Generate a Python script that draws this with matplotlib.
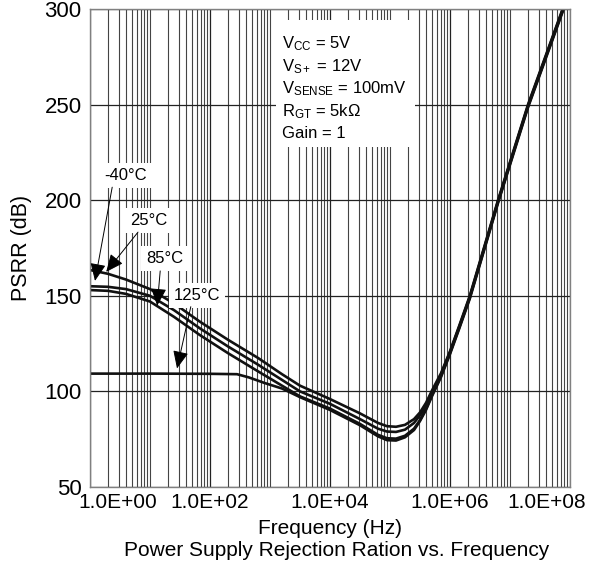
import numpy as np
import matplotlib
matplotlib.use("Agg")
import matplotlib.pyplot as plt
from matplotlib.patches import Rectangle
from matplotlib.ticker import FixedLocator, LogLocator, NullFormatter
import matplotlib.transforms as mtransforms

plt.rcParams['font.family'] = ['Liberation Sans', 'DejaVu Sans']
plt.rcParams['mathtext.fontset'] = 'custom'
plt.rcParams['mathtext.rm'] = 'Liberation Sans'
plt.rcParams['mathtext.it'] = 'Liberation Sans:italic'
plt.rcParams['mathtext.bf'] = 'Liberation Sans:bold'

# ---- data (log10 of frequency in Hz, PSRR in dB) ----
logf_top = [0.0, 0.3, 0.6, 1.0, 1.4, 1.83, 2.3, 2.8, 3.2, 3.5, 4.0, 4.5, 4.8, 4.95, 5.1, 5.25, 5.4, 5.5, 5.6, 5.7, 5.85, 6.0, 6.15, 6.33, 6.8, 7.3, 7.9]
psrr_top = [163.5, 161.5, 158.5, 153.5, 146.0, 136.5, 127.0, 117.5, 109.0, 103.0, 96.0, 88.5, 83.5, 81.8, 81.5, 82.5, 85.5, 89.0, 94.0, 100.5, 109.5, 121.0, 134.0, 150.0, 200.0, 250.0, 302.0]

logf_mid = [0.0, 0.3, 0.6, 1.0, 1.4, 1.83, 2.3, 2.8, 3.2, 3.5, 4.0, 4.5, 4.8, 4.95, 5.1, 5.25, 5.4, 5.5, 5.6, 5.7, 5.85, 6.0, 6.15, 6.33, 6.8, 7.3, 7.9]
psrr_mid = [155.0, 154.7, 153.5, 150.0, 142.5, 133.0, 123.5, 114.0, 106.0, 100.0, 93.5, 85.5, 80.5, 79.0, 78.8, 80.0, 83.5, 87.5, 92.5, 99.5, 108.8, 120.5, 133.5, 149.5, 199.5, 249.5, 301.5]

logf_low = [0.0, 0.3, 0.6, 1.0, 1.4, 1.83, 2.3, 2.8, 3.2, 3.5, 4.0, 4.5, 4.8, 4.95, 5.1, 5.25, 5.4, 5.5, 5.6, 5.7, 5.85, 6.0, 6.15, 6.33, 6.8, 7.3, 7.9]
psrr_low = [153.0, 152.6, 151.0, 147.0, 139.0, 129.5, 120.0, 110.5, 103.0, 97.4, 91.0, 83.0, 77.3, 75.5, 75.3, 76.8, 80.5, 85.0, 90.8, 98.0, 108.0, 120.0, 133.0, 149.0, 199.0, 249.0, 301.0]

logf_125 = [0.0, 1.0, 2.0, 2.45, 2.65, 2.9, 3.2, 3.5, 4.0, 4.5, 4.8, 4.95, 5.1, 5.25, 5.4, 5.5, 5.6, 5.7, 5.85, 6.0, 6.15, 6.33, 6.8, 7.3, 7.9]
psrr_125 = [109.3, 109.3, 109.2, 109.0, 107.3, 104.5, 101.5, 97.0, 90.3, 82.3, 76.5, 74.5, 74.3, 76.0, 79.8, 84.5, 90.3, 97.5, 107.5, 119.5, 132.5, 148.5, 198.5, 248.5, 300.5]

x_ticks = [1e0, 1e2, 1e4, 1e6, 1e8]
x_tick_labels = ["1.0E+00", "1.0E+02", "1.0E+04", "1.0E+06", "1.0E+08"]
y_ticks = [50, 100, 150, 200, 250, 300]

temp_labels = ["-40°C", "25°C", "85°C", "125°C"]
cond_lines = [r"V$_{\mathrm{CC}}$ = 5V", r"V$_{\mathrm{S+}}$ = 12V",
              r"V$_{\mathrm{SENSE}}$ = 100mV", r"R$_{\mathrm{GT}}$ = 5kΩ", "Gain = 1"]

# ---- figure ----
fig = plt.figure(figsize=(5.94, 5.67), dpi=100)
ax = fig.add_axes([90/594, 80/567, 480/594, 478/567])

ax.set_xscale('log')
ax.set_xlim(1e0, 1e8)
ax.set_ylim(50, 300)

for lf, p in [(logf_top, psrr_top), (logf_mid, psrr_mid), (logf_low, psrr_low), (logf_125, psrr_125)]:
    ax.plot(10.0 ** np.array(lf), p, color='#111111', lw=1.9, zorder=2, solid_capstyle='butt')

# grid
ax.set_axisbelow(True)
ax.xaxis.set_major_locator(FixedLocator(x_ticks))
ax.xaxis.set_minor_locator(LogLocator(base=10, subs=np.arange(1, 10), numticks=100))
ax.xaxis.set_minor_formatter(NullFormatter())
ax.set_xticks(x_ticks)
ax.set_xticklabels(x_tick_labels)
ax.set_yticks(y_ticks)
ax.grid(True, which='major', axis='both', color='#222222', lw=0.9)
ax.grid(True, which='minor', axis='x', color='#444444', lw=0.8)
ax.tick_params(axis='both', which='both', length=0)
ax.tick_params(axis='x', pad=4, labelsize=15)
ax.tick_params(axis='y', pad=6, labelsize=16)

# shift end tick labels inward
labels = ax.get_xticklabels()
labels[0].set_transform(labels[0].get_transform() + mtransforms.ScaledTranslation(28/100, 0, fig.dpi_scale_trans))
labels[-1].set_transform(labels[-1].get_transform() + mtransforms.ScaledTranslation(-23/100, 0, fig.dpi_scale_trans))

for s in ax.spines.values():
    s.set_color('#808080')
    s.set_linewidth(1.0)

ax.set_xlabel("Frequency (Hz)", fontsize=15, labelpad=5)
ax.set_ylabel("PSRR (dB)", fontsize=15.5, labelpad=9)
fig.text(337/594, 1 - 550/567, "Power Supply Rejection Ration vs. Frequency",
         ha='center', va='center', fontsize=15)

# conditions box
ax.add_patch(Rectangle((0.3875, 0.711), 0.29, 0.266, transform=ax.transAxes,
                       facecolor='white', edgecolor='none', zorder=1))
cond_y = [44, 67, 89, 112, 134]
for t, yy in zip(cond_lines, cond_y):
    ax.text((282 - 90) / 480, (487 - yy) / 478, t, transform=ax.transAxes,
            fontsize=12, ha='left', va='center', zorder=4)

# temperature labels with arrows
label_pos = [(0.6, 213.0), (0.98, 189.6), (1.24, 169.3), (1.78, 150.2)]
arrow_tail = [(0.37, 206.8), (0.80, 183.3), (1.17, 163.0), (1.68, 144.3)]
arrow_tip = [(0.083, 157.8), (0.27, 162.5), (1.12, 144.8), (1.45, 112.0)]
for t, (lx, ly), (tx, ty), (hx, hy) in zip(temp_labels, label_pos, arrow_tail, arrow_tip):
    ax.text(10 ** lx, ly, t, fontsize=12, ha='center', va='center', zorder=5,
            bbox=dict(boxstyle='square,pad=0.3', facecolor='white', edgecolor='none'))
    ax.annotate('', xy=(10 ** hx, hy), xytext=(10 ** tx, ty),
                arrowprops=dict(arrowstyle='-|>,head_length=0.9,head_width=0.4',
                                color='black', lw=0.7, mutation_scale=12,
                                shrinkA=0, shrinkB=0), zorder=6)

fig.savefig("out.png", dpi=100)
